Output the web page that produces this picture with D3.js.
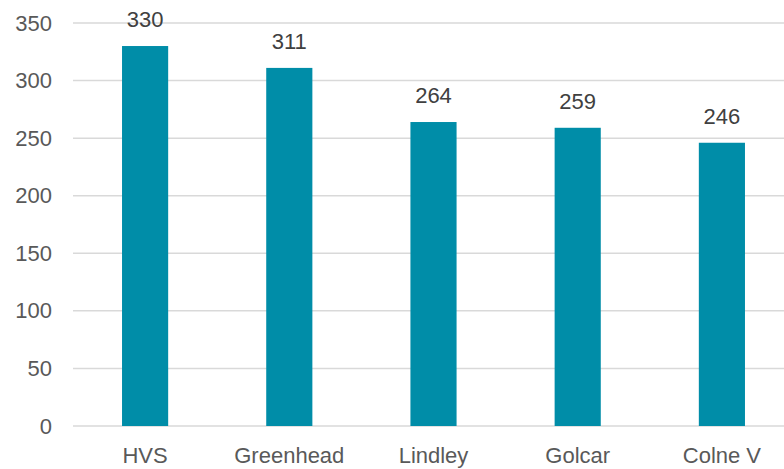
<!DOCTYPE html>
<html>
<head>
<meta charset="utf-8">
<script src="https://cdn.jsdelivr.net/npm/d3@7"></script>
<style>
body{margin:0;background:#fff}
svg{display:block}
</style>
</head>
<body>
<div id="chart"></div>
<script>
var categorias=["HVS","Greenhead","Lindley","Golcar","Colne V"]
var valores=[330,311,264,259,246]
var ticksY=[0,50,100,150,200,250,300,350]

var ancho=784,alto=469
var margin={top:23,bottom:43,left:73,right:-10}

var svg=d3.select("#chart").append("svg")
	.attr("width",ancho)
	.attr("height",alto)
	.style("font-family","'Liberation Sans',Arial,sans-serif")

var escalaX=d3.scaleBand()
	.domain(categorias)
	.range([margin.left,ancho-margin.right])
	.paddingInner(0.68)
	.paddingOuter(0.34)

var escalaY=d3.scaleLinear()
	.domain([0,350])
	.range([alto-margin.bottom,margin.top])

//Lineas de la cuadricula
svg.append("g").selectAll("line")
	.data(ticksY)
	.enter().append("line")
	.attr("x1",margin.left)
	.attr("x2",ancho)
	.attr("y1",d=>escalaY(d))
	.attr("y2",d=>escalaY(d))
	.attr("stroke","#d9d9d9")
	.attr("stroke-width",1.5)

//Eje Y
var ejeY=svg.append("g")
	.attr("transform","translate("+margin.left+",0)")
	.call(d3.axisLeft(escalaY).tickValues(ticksY).tickSize(0).tickPadding(21))
ejeY.select(".domain").remove()
ejeY.selectAll("text").attr("fill","#595959").style("font-size","22px").style("font-family","'Liberation Sans',Arial,sans-serif")

//Barras
svg.append("g").selectAll("rect")
	.data(valores)
	.enter().append("rect")
	.attr("x",(d,i)=>escalaX(categorias[i]))
	.attr("width",escalaX.bandwidth())
	.attr("y",d=>escalaY(d))
	.attr("height",d=>escalaY(0)-escalaY(d))
	.attr("fill","#008da8")

//Etiquetas
svg.append("g").selectAll("text")
	.data(valores)
	.enter().append("text")
	.attr("x",(d,i)=>escalaX(categorias[i])+escalaX.bandwidth()/2)
	.attr("y",d=>escalaY(d)-19)
	.attr("text-anchor","middle")
	.attr("fill","#404040")
	.style("font-size","22px")
	.text(d=>d)

//Eje X
var ejeX=svg.append("g")
	.attr("transform","translate(0,"+(alto-margin.bottom)+")")
	.call(d3.axisBottom(escalaX).tickSize(0).tickPadding(21))
ejeX.select(".domain").remove()
ejeX.selectAll("text").attr("fill","#595959").style("font-size","22px").style("font-family","'Liberation Sans',Arial,sans-serif")
</script>
</body>
</html>
